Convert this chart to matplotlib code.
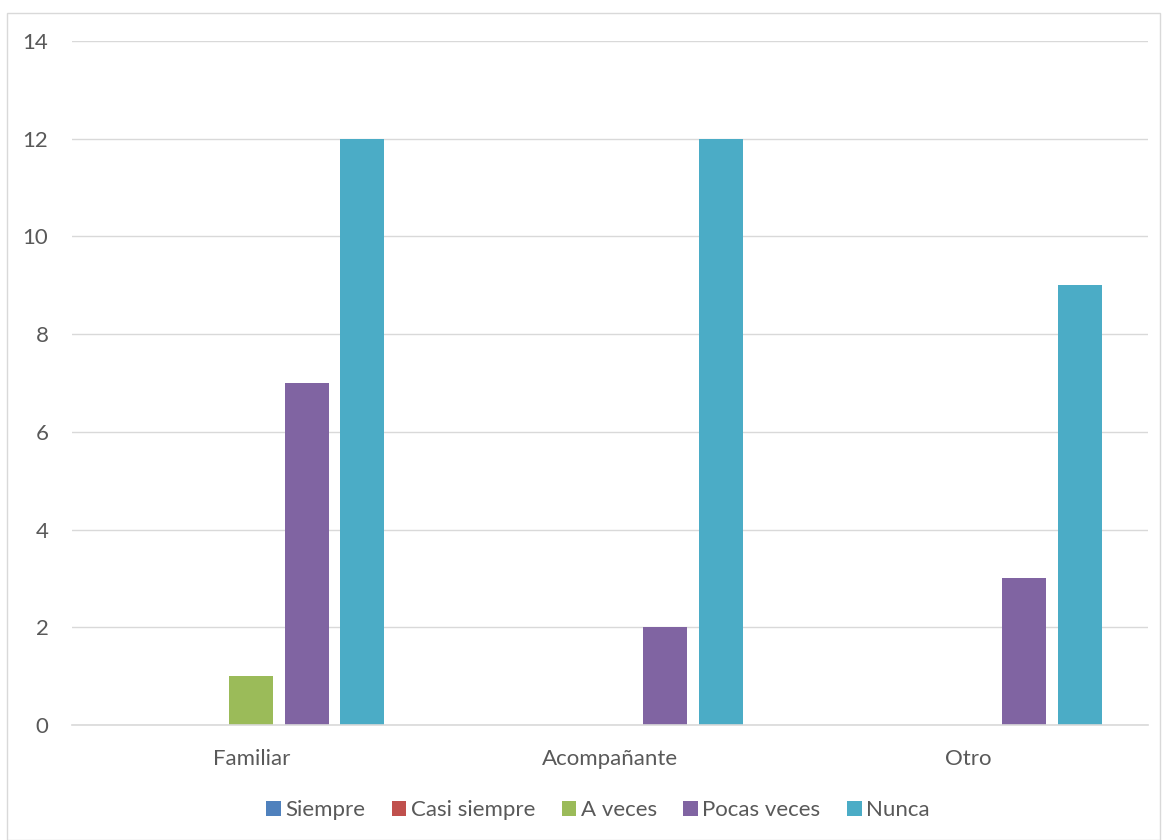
import matplotlib
matplotlib.use("Agg")
import matplotlib.pyplot as plt
from matplotlib.patches import Rectangle
import numpy as np

categories = ["Familiar", "Acompañante", "Otro"]
series_names = ["Siempre", "Casi siempre", "A veces", "Pocas veces", "Nunca"]
siempre = [0, 0, 0]
casi_siempre = [0, 0, 0]
a_veces = [1, 0, 0]
pocas_veces = [7, 2, 3]
nunca = [12, 12, 9]
colors = ["#4F81BD", "#C0504D", "#9BBB59", "#8064A2", "#4BACC6"]

plt.rcParams['font.family'] = ['Lato', 'DejaVu Sans']

fig = plt.figure(figsize=(11.67, 8.4), dpi=100)
ax = fig.add_axes([72/1167, 1-725/840, (1148-72)/1167, (725-41)/840])

data = [siempre, casi_siempre, a_veces, pocas_veces, nunca]
x = np.arange(len(categories))
pitch = 0.1546
width = 0.1226
for j, (name, vals, c) in enumerate(zip(series_names, data, colors)):
    ax.bar(x + (j-2)*pitch, vals, width=width, color=c, label=name, linewidth=0)

ax.set_xlim(-0.5, 2.5)
ax.set_ylim(0, 14)
ax.set_yticks(range(0, 15, 2))
ax.set_xticks(x)
ax.set_xticklabels(categories)
ax.grid(axis='y', color='#D9D9D9', linewidth=1)
ax.set_axisbelow(True)
for s in ['top', 'right', 'left']:
    ax.spines[s].set_visible(False)
ax.spines['bottom'].set_color('#D9D9D9')
ax.spines['bottom'].set_linewidth(1.2)
ax.tick_params(axis='both', length=0, labelsize=16, colors='#595959')
ax.tick_params(axis='y', pad=17)
ax.tick_params(axis='x', pad=17)

leg = fig.legend(loc='center', bbox_to_anchor=(598/1167, 1-810/840), ncol=5, frameon=False,
                 fontsize=16, handlelength=0.65, handleheight=0.65, handletextpad=0.2,
                 columnspacing=1.2)
for t in leg.get_texts():
    t.set_color('#595959')

fig.patches.append(Rectangle((7/1167, 0), 1-14/1167, 1-13/840, transform=fig.transFigure,
                             fill=False, edgecolor='#D9D9D9', linewidth=1))

fig.savefig("out.png", dpi=100)
